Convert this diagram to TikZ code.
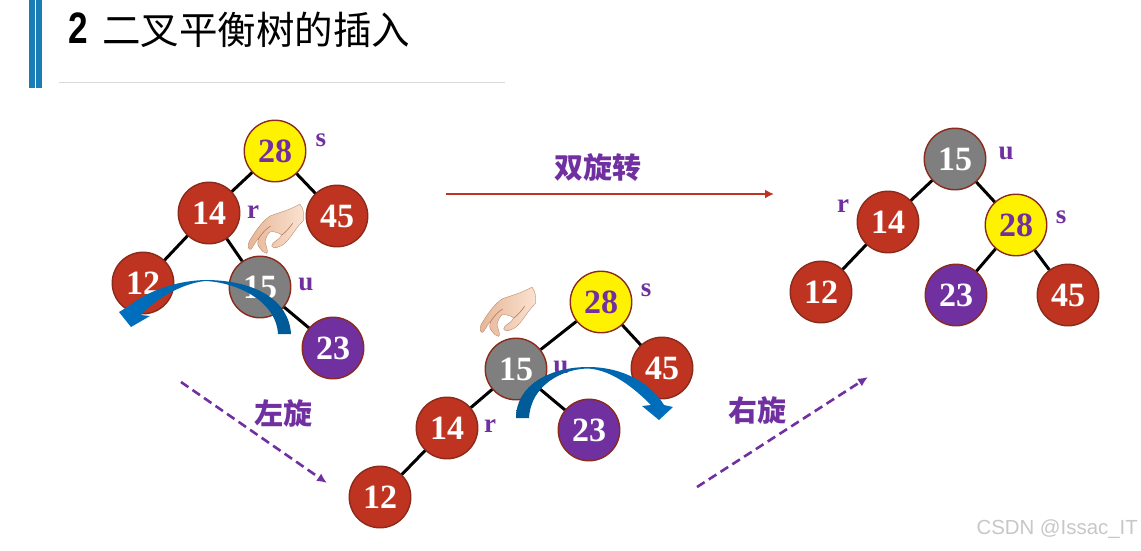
\documentclass[tikz,border=0pt]{standalone}
\usepackage{fontspec}
\setmainfont{Liberation Serif}
\newfontfamily\cjk{Noto Sans CJK SC}
\newfontfamily\titlefont{Liberation Sans}
\usepackage{tikz}
\usetikzlibrary{arrows.meta}
\definecolor{nodered}{HTML}{BF3420}
\definecolor{nodegray}{HTML}{7F7F7F}
\definecolor{nodepurple}{HTML}{7030A0}
\definecolor{noderim}{HTML}{8B2A1A}
\definecolor{barblue}{HTML}{1B7DB5}
\definecolor{turnblue}{HTML}{0070C0}
\definecolor{turndark}{HTML}{005A96}
\definecolor{skin}{HTML}{F4C4A4}
\definecolor{skinlight}{HTML}{FBE3D2}
\definecolor{skinline}{HTML}{B07A5A}
\tikzset{
	key/.style={circle,draw=noderim,line width=1.4pt,minimum size=61.5pt,inner sep=0pt,text=white,font=\bfseries\fontsize{34}{34}\selectfont},
	redkey/.style={key,fill=nodered},
	graykey/.style={key,fill=nodegray},
	purplekey/.style={key,fill=nodepurple},
	yellowkey/.style={key,fill=yellow,text=nodepurple},
	tag/.style={text=nodepurple,inner sep=0pt,font=\bfseries\fontsize{27}{27}\selectfont},
	steptext/.style={text=nodepurple,inner sep=0pt,font=\cjk\bfseries\fontsize{29}{29}\selectfont},
	branch/.style={line width=3pt,black},
	slant/.style={nodepurple,line width=2.6pt,dash pattern=on 9pt off 5pt,-{Latex[length=10pt,width=9pt]}},
	handpic/.pic={
		\begin{scope}[x=.3333pt,y=-.3333pt,shift={(-600,-42)}]
			\path[left color=skin!80!skinline,right color=skinlight,draw=skinline,line width=.3pt] (600,42) .. controls (570,60) and (530,70) .. (510,78) .. controls (485,95) and (465,125) .. (447,155) .. controls (442,170) and (445,180) .. (453,178) .. controls (462,165) and (470,150) .. (478,142) .. controls (472,155) and (470,165) .. (480,175) .. controls (485,182) and (492,190) .. (500,190) .. controls (507,188) and (497,165) .. (495,155) .. controls (498,140) and (505,128) .. (512,125) .. controls (525,125) and (538,128) .. (545,135) .. controls (540,150) and (515,155) .. (515,168) .. controls (520,178) and (535,172) .. (548,165) .. controls (570,150) and (585,115) .. (610,92) .. controls (614,75) and (610,55) .. (600,42) -- cycle;
			\draw[skinline,line width=.6pt] (478,142) .. controls (490,125) and (500,115) .. (512,108);
			\draw[skinline,line width=.6pt] (545,135) .. controls (560,125) and (570,110) .. (578,100);
		\end{scope}
	}
}
\begin{document}
\begin{tikzpicture}[x=1pt,y=-1pt]
	\useasboundingbox (0,0) rectangle (1141,550);
	
	\fill[barblue] (29,0) rectangle (35,88);
	\fill[barblue] (36,0) rectangle (42,88);
	\draw[black!15,line width=1pt] (59,82) -- (505,82);
	\node[anchor=west,inner sep=0pt] (titlenum) at (68,28) {\titlefont\bfseries\fontsize{44}{44}\selectfont\scalebox{.8}[1]{2}};
	\node[anchor=west,inner sep=0pt] (titletext) at (102,30) {\cjk\fontsize{38.5}{38.5}\selectfont 二叉平衡树的插入};
	
	\node[yellowkey] (a28) at (275,151) {28};
	\node[redkey] (a14) at (209,213) {14};
	\node[redkey] (a45) at (337,216) {45};
	\node[redkey] (a12) at (143,283) {12};
	\node[graykey] (a15) at (260,287) {15};
	\node[purplekey] (a23) at (333,348) {23};
	\draw[branch] (a28) -- (a14);
	\draw[branch] (a28) -- (a45);
	\draw[branch] (a14) -- (a12);
	\draw[branch] (a14) -- (a15);
	\draw[branch] (a15) -- (a23);
	\node[tag] (as) at (321,140) {s};
	\node[tag] (ar) at (253,212) {r};
	\node[tag] (au) at (306,284) {u};
	\pic (handa) at (300,204) {handpic};
	\path[left color=turnblue,right color=turndark] (291,334) .. controls (289,300) and (255,280) .. (205,280) .. controls (170,281) and (142,295) .. (129,306) -- (119,312) -- (131,327) -- (150,316) -- (141,315) .. controls (153,302) and (178,284) .. (205,281) .. controls (235,282) and (276,300) .. (278,334) -- cycle;
	
	\coordinate (leftfrom) at (181,382);
	\coordinate (leftto) at (327,483);
	\draw[slant] (leftfrom) -- (leftto);
	\node[steptext] (lefttext) at (283,413) {左旋};
	
	\node[yellowkey] (b28) at (601,302) {28};
	\node[graykey] (b15) at (516,369) {15};
	\node[redkey] (b45) at (662,368) {45};
	\node[redkey] (b14) at (447,428) {14};
	\node[purplekey] (b23) at (589,430) {23};
	\node[redkey] (b12) at (380,497) {12};
	\draw[branch] (b28) -- (b15);
	\draw[branch] (b28) -- (b45);
	\draw[branch] (b15) -- (b14);
	\draw[branch] (b15) -- (b23);
	\draw[branch] (b14) -- (b12);
	\node[tag] (bs) at (646,290) {s};
	\node[tag] (bu) at (561,367) {u};
	\node[tag] (br) at (490,426) {r};
	\pic (handb) at (532,287) {handpic};
	\path[left color=turndark,right color=turnblue] (516,418) .. controls (516,385) and (550,367) .. (588,367) .. controls (625,367) and (652,385) .. (664,405) -- (673,407) -- (659,420) -- (642,406) -- (651,405) .. controls (634,388) and (612,370) .. (588,368.5) .. controls (562,369) and (531,385) .. (529,418) -- cycle;
	
	\coordinate (rightfrom) at (697,487);
	\coordinate (rightto) at (868,377);
	\draw[slant] (rightfrom) -- (rightto);
	\node[steptext] (righttext) at (757,410) {右旋};
	
	\coordinate (mainfrom) at (446,194);
	\coordinate (mainto) at (774,194);
	\draw[nodered,line width=2.4pt,-{Latex[length=9pt,width=9pt]}] (mainfrom) -- (mainto);
	\node[steptext] (maintext) at (598,168) {双旋转};
	
	\node[graykey] (c15) at (955,159) {15};
	\node[redkey] (c14) at (888,222) {14};
	\node[yellowkey] (c28) at (1016,225) {28};
	\node[redkey] (c12) at (821,292) {12};
	\node[purplekey] (c23) at (956,295) {23};
	\node[redkey] (c45) at (1068,295) {45};
	\draw[branch] (c15) -- (c14);
	\draw[branch] (c15) -- (c28);
	\draw[branch] (c14) -- (c12);
	\draw[branch] (c28) -- (c23);
	\draw[branch] (c28) -- (c45);
	\node[tag] (cu) at (1006,153) {u};
	\node[tag] (cr) at (843,206) {r};
	\node[tag] (cs) at (1061,217) {s};
	
	\node[anchor=east,inner sep=0pt,text=black!22] (mark) at (1138,529) {\titlefont\fontsize{20.4}{20.4}\selectfont CSDN @Issac\_IT};
\end{tikzpicture}
\end{document}
